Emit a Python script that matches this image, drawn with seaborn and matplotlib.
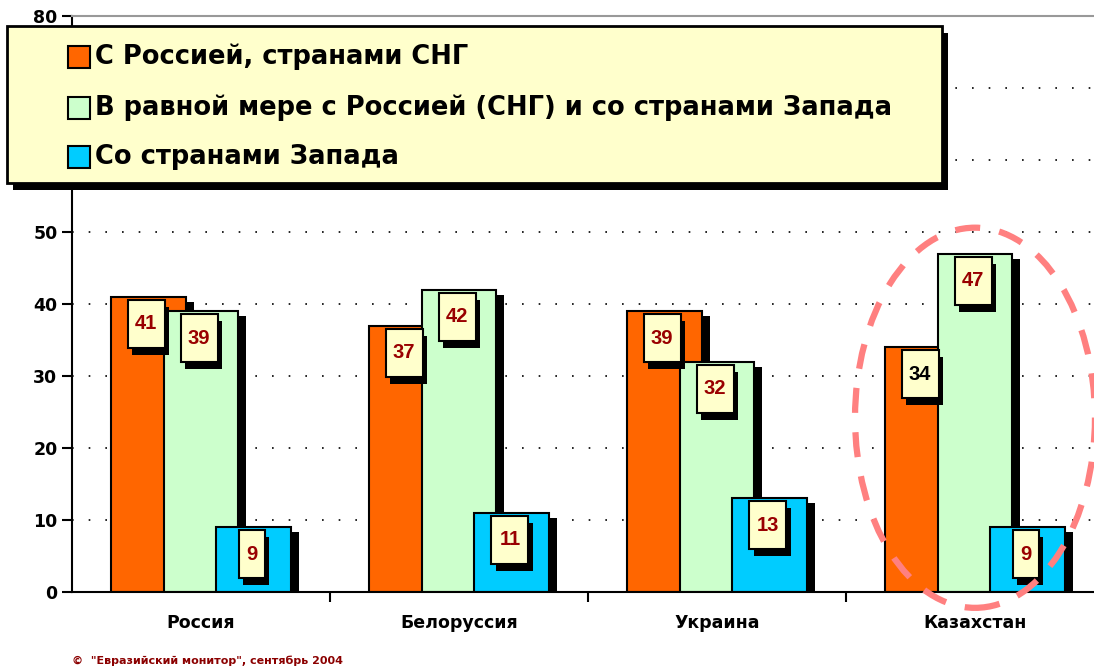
import pandas as pd
import matplotlib
matplotlib.use("Agg")
import matplotlib.pyplot as plt
import matplotlib.patheffects as pe
import matplotlib.transforms as mtransforms
from matplotlib.patches import Rectangle, Ellipse
import seaborn as sns

countries = ["Россия", "Белоруссия", "Украина", "Казахстан"]
series = [
    "С Россией, странами СНГ",
    "В равной мере с Россией (СНГ) и со странами Запада",
    "Со странами Запада",
]
russia_cis = [41, 37, 39, 34]
both = [39, 42, 32, 47]
west = [9, 11, 13, 9]
colors = ["#FF6600", "#CCFFCC", "#00CCFF"]

df = pd.DataFrame({
    "country": countries * 3,
    "series": [series[0]] * 4 + [series[1]] * 4 + [series[2]] * 4,
    "value": russia_cis + both + west,
})

W, H = 1094, 668
sns.set_style("white")
plt.rcParams["font.family"] = ["DejaVu Sans"]
plt.rcParams["text.color"] = "black"
plt.rcParams["xtick.color"] = "black"
plt.rcParams["ytick.color"] = "black"
fig = plt.figure(figsize=(W / 100, H / 100), dpi=100)
ax = fig.add_axes([72 / W, (H - 592) / H, (1104 - 72) / W, (592 - 16) / H])

sns.barplot(data=df, x="country", y="value", hue="series", palette=colors,
            order=countries, hue_order=series, width=0.615, saturation=1,
            edgecolor="black", linewidth=1.5, legend=False, ax=ax)

ax.set_xlim(-0.5, 3.5)
ax.set_ylim(0, 80)

# widen bars so they overlap like the original, add black drop shadows
bar_w = 0.29
shadow = [pe.SimplePatchShadow(offset=(5.8, -3.6), shadow_rgbFace="black", alpha=1.0), pe.Normal()]
for cont in ax.containers:
    for bar in cont:
        cx = bar.get_x() + bar.get_width() / 2
        bar.set_x(cx - bar_w / 2)
        bar.set_width(bar_w)
        bar.set_path_effects(shadow)

# value labels in small yellow boxes
box_shadow = [pe.SimplePatchShadow(offset=(3, -5), shadow_rgbFace="black", alpha=1.0), pe.Normal()]
for i, cont in enumerate(ax.containers):
    for j, bar in enumerate(cont):
        val = int(round(bar.get_height()))
        cx = bar.get_x() + bar.get_width() / 2
        trans = fig.dpi_scale_trans + mtransforms.ScaledTranslation(cx, bar.get_height(), ax.transData)
        bw = 37 if val >= 10 else 26
        rect = Rectangle(((-bw / 2 - 2) / 100, -51 / 100), bw / 100, 48 / 100, transform=trans,
                         facecolor="#FFFFCC", edgecolor="black", linewidth=1.5, zorder=5,
                         path_effects=box_shadow, clip_on=False)
        ax.add_artist(rect)
        tc = "black" if (j == 3 and i == 0) else "#990000"
        ax.text(-2 / 100, -27 / 100, str(val), transform=trans, ha="center", va="center",
                fontsize=14.5, fontweight="bold", color=tc, zorder=6, family="Liberation Sans")

# axes styling
ax.set_xlabel("")
ax.set_ylabel("")
ax.set_yticks(range(0, 81, 10))
ax.tick_params(axis="y", length=7, width=1.5, pad=3.5, labelsize=12.5, direction="out", left=True)
for lab in ax.get_yticklabels():
    lab.set_fontweight("bold")
ax.set_xticks(range(4))
ax.set_xticklabels(countries, fontsize=12.5, fontweight="bold")
ax.tick_params(axis="x", length=0, pad=16)
ax.set_xticks([0.5, 1.5, 2.5], minor=True)
ax.tick_params(axis="x", which="minor", length=7, width=1.5, direction="out", bottom=True)
for y in range(10, 80, 10):
    ax.axhline(y, color="black", linewidth=1.2, linestyle=(0, (1, 9)), zorder=0)
ax.spines["left"].set_linewidth(1.5)
ax.spines["bottom"].set_linewidth(1.5)
ax.spines["left"].set_color("black")
ax.spines["bottom"].set_color("black")
ax.spines["top"].set_color("#999999")
ax.spines["top"].set_linewidth(1.5)
ax.spines["right"].set_visible(False)

# highlight ellipse around Kazakhstan
ell = Ellipse((3.0, 24.2), 0.93, 52.8, fill=False, edgecolor="#FF8080", linewidth=4.5,
              linestyle=(0, (4, 3.1)), zorder=7, clip_on=False)
ax.add_patch(ell)

# legend box drawn by hand
frame = Rectangle((7 / W, (H - 183) / H), (942 - 7) / W, (183 - 26) / H, transform=fig.transFigure,
                  facecolor="#FFFFCC", edgecolor="black", linewidth=2, zorder=10,
                  path_effects=[pe.SimplePatchShadow(offset=(4.3, -5), shadow_rgbFace="black", alpha=1.0), pe.Normal()])
fig.add_artist(frame)
for k, (name, col) in enumerate(zip(series, colors)):
    yc = [57, 108, 157][k]
    fig.add_artist(Rectangle((68 / W, (H - yc - 11) / H), 22 / W, 22 / H, transform=fig.transFigure,
                             facecolor=col, edgecolor="black", linewidth=1.5, zorder=11))
    fig.text(95 / W, (H - yc) / H, name, fontsize=18.5, fontweight="bold", va="center", ha="left", zorder=11)

fig.text(72 / W, (H - 661) / H, "©  \"Евразийский монитор\", сентябрь 2004", fontsize=8,
         fontweight="bold", color="#8B0000", va="center", ha="left")

fig.savefig("out.png", dpi=100)
